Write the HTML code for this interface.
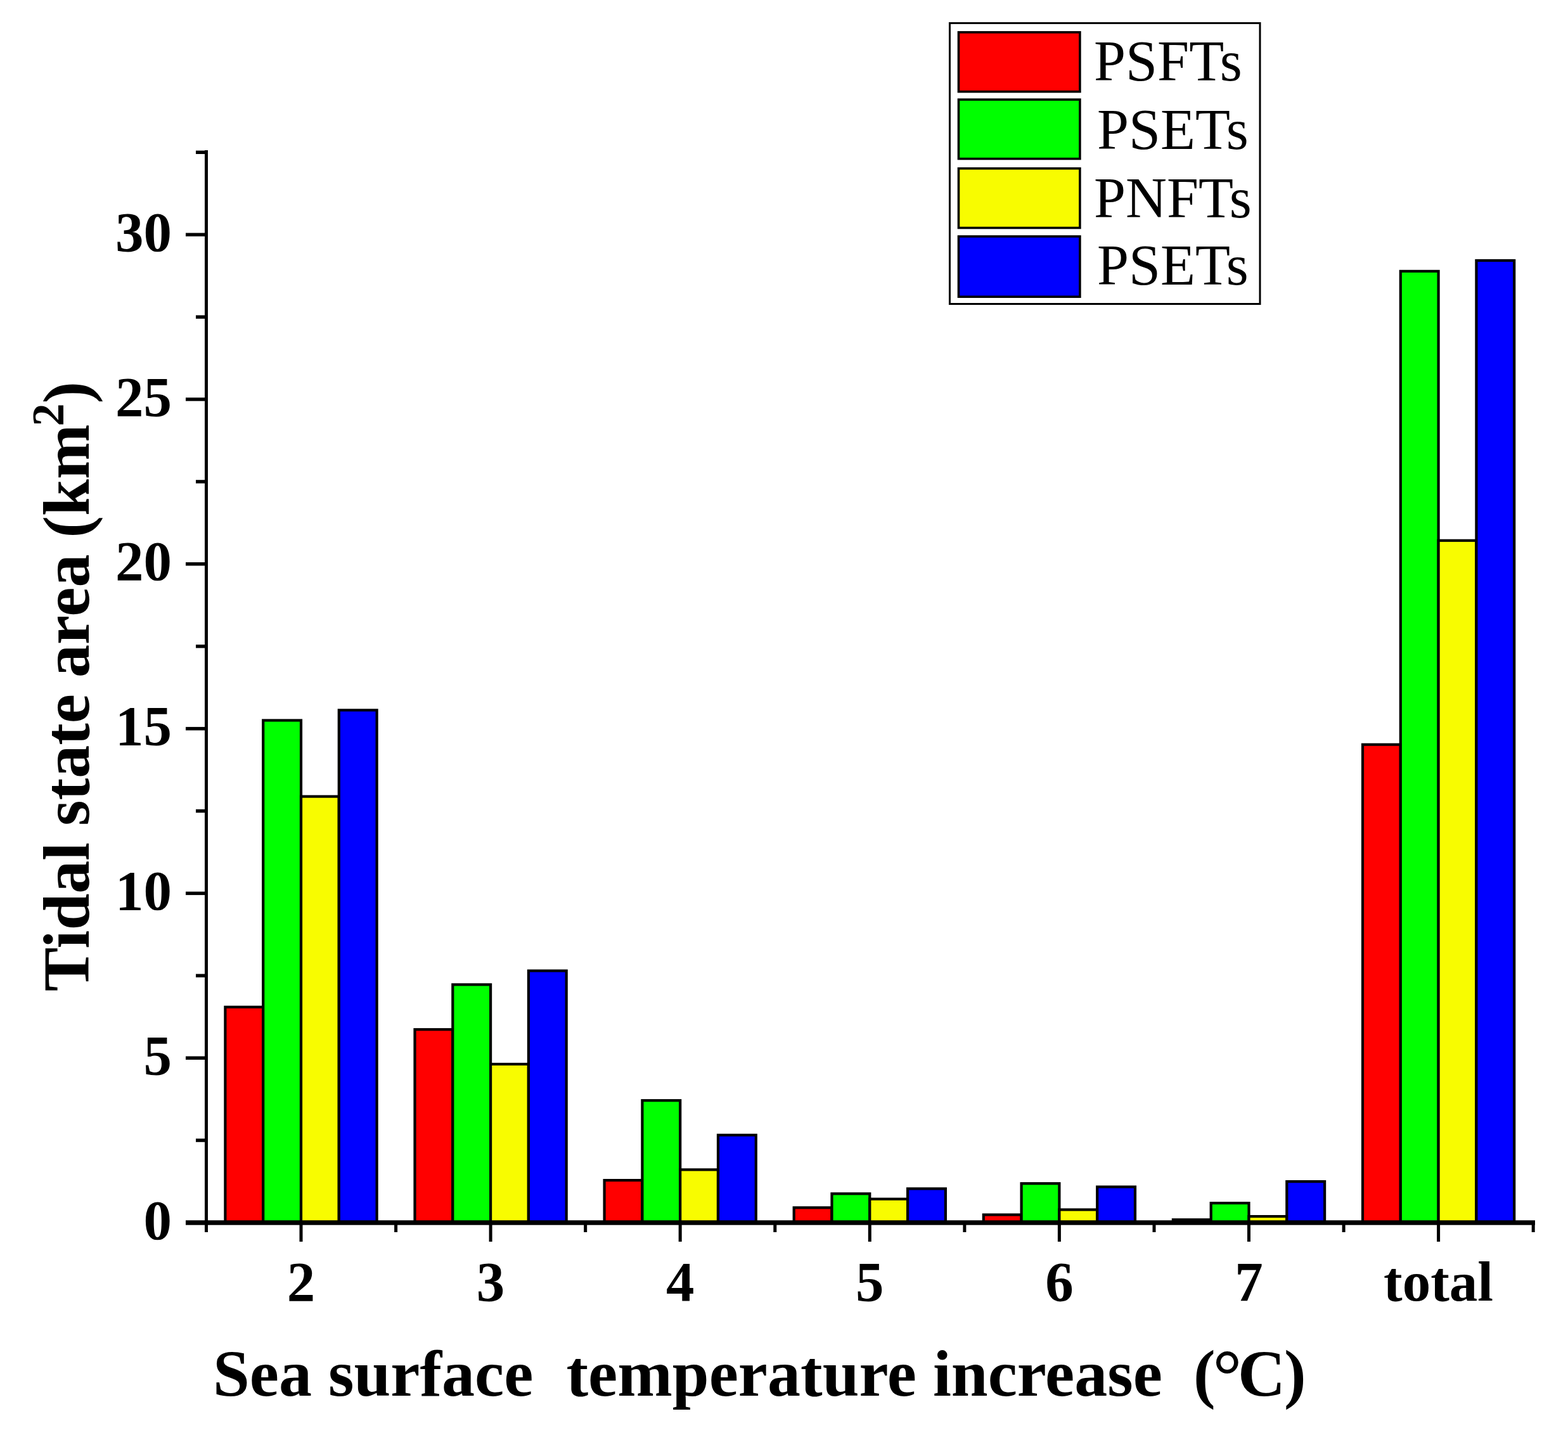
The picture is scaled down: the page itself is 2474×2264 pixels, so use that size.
<!DOCTYPE html><html><head><meta charset="utf-8"><style>html,body{margin:0;padding:0;background:#fff;}svg{display:block;}</style></head><body>
<svg width="2474" height="2264" viewBox="0 0 2474 2264">
<rect x="0" y="0" width="2474" height="2264" fill="#fff"/>
<rect x="355.4" y="1588.8" width="59.8" height="340.2" fill="#ff0000" stroke="#000" stroke-width="4.2"/>
<rect x="654.5" y="1624.2" width="59.8" height="304.8" fill="#ff0000" stroke="#000" stroke-width="4.2"/>
<rect x="953.6" y="1862.1" width="59.8" height="66.9" fill="#ff0000" stroke="#000" stroke-width="4.2"/>
<rect x="1252.7" y="1905.3" width="59.8" height="23.7" fill="#ff0000" stroke="#000" stroke-width="4.2"/>
<rect x="1551.8" y="1916.5" width="59.8" height="12.5" fill="#ff0000" stroke="#000" stroke-width="4.2"/>
<rect x="1850.9" y="1924.3" width="59.8" height="4.7" fill="#ff0000" stroke="#000" stroke-width="4.2"/>
<rect x="2150.0" y="1174.7" width="59.8" height="754.3" fill="#ff0000" stroke="#000" stroke-width="4.2"/>
<rect x="415.2" y="1136.5" width="59.8" height="792.5" fill="#00ff00" stroke="#000" stroke-width="4.2"/>
<rect x="714.3" y="1553.4" width="59.8" height="375.6" fill="#00ff00" stroke="#000" stroke-width="4.2"/>
<rect x="1013.4" y="1736.2" width="59.8" height="192.8" fill="#00ff00" stroke="#000" stroke-width="4.2"/>
<rect x="1312.5" y="1883.3" width="59.8" height="45.7" fill="#00ff00" stroke="#000" stroke-width="4.2"/>
<rect x="1611.6" y="1867.2" width="59.8" height="61.8" fill="#00ff00" stroke="#000" stroke-width="4.2"/>
<rect x="1910.7" y="1898.1" width="59.8" height="30.9" fill="#00ff00" stroke="#000" stroke-width="4.2"/>
<rect x="2209.8" y="427.9" width="59.8" height="1501.1" fill="#00ff00" stroke="#000" stroke-width="4.2"/>
<rect x="475.0" y="1256.6" width="59.8" height="672.4" fill="#f8fc00" stroke="#000" stroke-width="4.2"/>
<rect x="774.1" y="1678.9" width="59.8" height="250.1" fill="#f8fc00" stroke="#000" stroke-width="4.2"/>
<rect x="1073.2" y="1845.4" width="59.8" height="83.6" fill="#f8fc00" stroke="#000" stroke-width="4.2"/>
<rect x="1372.3" y="1891.7" width="59.8" height="37.3" fill="#f8fc00" stroke="#000" stroke-width="4.2"/>
<rect x="1671.4" y="1908.5" width="59.8" height="20.5" fill="#f8fc00" stroke="#000" stroke-width="4.2"/>
<rect x="1970.5" y="1919.1" width="59.8" height="9.9" fill="#f8fc00" stroke="#000" stroke-width="4.2"/>
<rect x="2269.6" y="852.8" width="59.8" height="1076.2" fill="#f8fc00" stroke="#000" stroke-width="4.2"/>
<rect x="534.8" y="1120.4" width="59.8" height="808.6" fill="#0000ff" stroke="#000" stroke-width="4.2"/>
<rect x="833.9" y="1531.6" width="59.8" height="397.4" fill="#0000ff" stroke="#000" stroke-width="4.2"/>
<rect x="1133.0" y="1790.8" width="59.8" height="138.2" fill="#0000ff" stroke="#000" stroke-width="4.2"/>
<rect x="1432.1" y="1875.4" width="59.8" height="53.6" fill="#0000ff" stroke="#000" stroke-width="4.2"/>
<rect x="1731.2" y="1872.5" width="59.8" height="56.5" fill="#0000ff" stroke="#000" stroke-width="4.2"/>
<rect x="2030.3" y="1864.1" width="59.8" height="64.9" fill="#0000ff" stroke="#000" stroke-width="4.2"/>
<rect x="2329.4" y="411.0" width="59.8" height="1518.0" fill="#0000ff" stroke="#000" stroke-width="4.2"/>
<rect x="323.0" y="237" width="5" height="1707" fill="#000"/>
<rect x="293" y="1925.3" width="2129" height="7.4" fill="#000"/>
<rect x="293" y="1926.3" width="35" height="5.4" fill="#000"/>
<rect x="309" y="1796.4" width="19" height="5.4" fill="#000"/>
<rect x="293" y="1666.5" width="35" height="5.4" fill="#000"/>
<rect x="309" y="1536.6" width="19" height="5.4" fill="#000"/>
<rect x="293" y="1406.7" width="35" height="5.4" fill="#000"/>
<rect x="309" y="1276.8" width="19" height="5.4" fill="#000"/>
<rect x="293" y="1146.9" width="35" height="5.4" fill="#000"/>
<rect x="309" y="1017.0" width="19" height="5.4" fill="#000"/>
<rect x="293" y="887.1" width="35" height="5.4" fill="#000"/>
<rect x="309" y="757.2" width="19" height="5.4" fill="#000"/>
<rect x="293" y="627.3" width="35" height="5.4" fill="#000"/>
<rect x="309" y="497.4" width="19" height="5.4" fill="#000"/>
<rect x="293" y="367.5" width="35" height="5.4" fill="#000"/>
<rect x="309" y="237.6" width="19" height="5.4" fill="#000"/>
<rect x="472.5" y="1929.0" width="5" height="30.0" fill="#000"/>
<rect x="771.6" y="1929.0" width="5" height="30.0" fill="#000"/>
<rect x="1070.7" y="1929.0" width="5" height="30.0" fill="#000"/>
<rect x="1369.8" y="1929.0" width="5" height="30.0" fill="#000"/>
<rect x="1668.9" y="1929.0" width="5" height="30.0" fill="#000"/>
<rect x="1968.0" y="1929.0" width="5" height="30.0" fill="#000"/>
<rect x="2267.1" y="1929.0" width="5" height="30.0" fill="#000"/>
<rect x="323.0" y="1929.0" width="5" height="15.0" fill="#000"/>
<rect x="622.1" y="1929.0" width="5" height="15.0" fill="#000"/>
<rect x="921.2" y="1929.0" width="5" height="15.0" fill="#000"/>
<rect x="1220.3" y="1929.0" width="5" height="15.0" fill="#000"/>
<rect x="1519.4" y="1929.0" width="5" height="15.0" fill="#000"/>
<rect x="1818.5" y="1929.0" width="5" height="15.0" fill="#000"/>
<rect x="2117.6" y="1929.0" width="5" height="15.0" fill="#000"/>
<rect x="2416.7" y="1929.0" width="5" height="15.0" fill="#000"/>
<text x="271" y="1954.5" font-family="Liberation Serif, Times New Roman, serif" font-weight="bold" font-size="89" text-anchor="end">0</text>
<text x="271" y="1694.7" font-family="Liberation Serif, Times New Roman, serif" font-weight="bold" font-size="89" text-anchor="end">5</text>
<text x="271" y="1434.9" font-family="Liberation Serif, Times New Roman, serif" font-weight="bold" font-size="89" text-anchor="end">10</text>
<text x="271" y="1175.1" font-family="Liberation Serif, Times New Roman, serif" font-weight="bold" font-size="89" text-anchor="end">15</text>
<text x="271" y="915.3" font-family="Liberation Serif, Times New Roman, serif" font-weight="bold" font-size="89" text-anchor="end">20</text>
<text x="271" y="655.5" font-family="Liberation Serif, Times New Roman, serif" font-weight="bold" font-size="89" text-anchor="end">25</text>
<text x="271" y="395.7" font-family="Liberation Serif, Times New Roman, serif" font-weight="bold" font-size="89" text-anchor="end">30</text>
<text x="475.0" y="2052" font-family="Liberation Serif, Times New Roman, serif" font-weight="bold" font-size="89" text-anchor="middle">2</text>
<text x="774.1" y="2052" font-family="Liberation Serif, Times New Roman, serif" font-weight="bold" font-size="89" text-anchor="middle">3</text>
<text x="1073.2" y="2052" font-family="Liberation Serif, Times New Roman, serif" font-weight="bold" font-size="89" text-anchor="middle">4</text>
<text x="1372.3" y="2052" font-family="Liberation Serif, Times New Roman, serif" font-weight="bold" font-size="89" text-anchor="middle">5</text>
<text x="1671.4" y="2052" font-family="Liberation Serif, Times New Roman, serif" font-weight="bold" font-size="89" text-anchor="middle">6</text>
<text x="1970.5" y="2052" font-family="Liberation Serif, Times New Roman, serif" font-weight="bold" font-size="89" text-anchor="middle">7</text>
<text x="2269.6" y="2052" font-family="Liberation Serif, Times New Roman, serif" font-weight="bold" font-size="89" text-anchor="middle">total</text>
<text x="336" y="2202" font-family="Liberation Serif, Times New Roman, serif" font-weight="bold" font-size="104" xml:space="preserve">Sea surface  temperature increase  <tspan x="1883">(</tspan><tspan x="1913.6" dy="6.4" font-size="114.5">°</tspan><tspan x="1953" dy="-6.4">C</tspan><tspan x="2026">)</tspan></text>
<text transform="translate(139.5,1564) rotate(-90)" x="0" y="0" font-family="Liberation Serif, Times New Roman, serif" font-weight="bold" font-size="104" xml:space="preserve">Tidal state area (km<tspan font-size="72" dx="-3" dy="-40">2</tspan><tspan dy="40">)</tspan></text>
<rect x="1498.5" y="36.5" width="489.5" height="443" fill="#fff" stroke="#000" stroke-width="3"/>
<rect x="1512.5" y="50.9" width="191.4" height="93.7" fill="#ff0000" stroke="#000" stroke-width="3.6"/>
<rect x="1512.5" y="157.1" width="191.4" height="93.4" fill="#00ff00" stroke="#000" stroke-width="3.6"/>
<rect x="1512.5" y="265.8" width="191.4" height="93.7" fill="#f8fc00" stroke="#000" stroke-width="3.6"/>
<rect x="1512.5" y="373.0" width="191.4" height="95.2" fill="#0000ff" stroke="#000" stroke-width="3.6"/>
<text x="1726" y="126.7" font-family="Liberation Serif, Times New Roman, serif" font-size="90">PSFTs</text>
<text x="1731" y="234.6" font-family="Liberation Serif, Times New Roman, serif" font-size="90">PSETs</text>
<text x="1726" y="342.6" font-family="Liberation Serif, Times New Roman, serif" font-size="90">PNFTs</text>
<text x="1731" y="449.2" font-family="Liberation Serif, Times New Roman, serif" font-size="90">PSETs</text>
</svg></body></html>
